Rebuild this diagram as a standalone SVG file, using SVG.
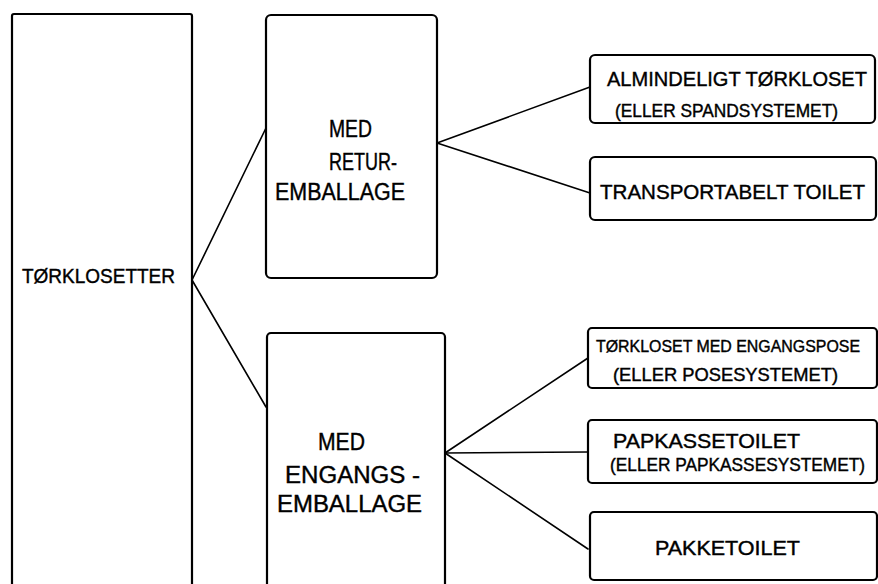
<svg xmlns="http://www.w3.org/2000/svg" width="878" height="584" viewBox="0 0 878 584">
<style>
.box{fill:none;stroke:#000;stroke-width:2.2;stroke-linejoin:round}
.con{fill:none;stroke:#000;stroke-width:1.6;stroke-linecap:round}
text{font-family:"Liberation Sans","DejaVu Sans",sans-serif;fill:#000;stroke:#000;stroke-width:0.4;font-size:23px}
.m{font-size:21px}
.s{font-size:18px}
.t{font-size:17px}
</style>
<rect width="878" height="584" fill="#fff"/>
<g id="connectors">
<line class="con" x1="192" y1="280" x2="266" y2="128"/>
<line class="con" x1="192" y1="280" x2="266" y2="407"/>
<line class="con" x1="437" y1="143" x2="590" y2="87"/>
<line class="con" x1="437" y1="143" x2="590" y2="193"/>
<line class="con" x1="445" y1="453" x2="588" y2="358"/>
<line class="con" x1="445" y1="453" x2="588" y2="452"/>
<line class="con" x1="445" y1="453" x2="588" y2="549"/>
</g>
<g id="n-torklosetter">
<rect class="box" x="12" y="14" width="180" height="600" rx="2"/>
<text x="22" y="283" class="m" textLength="153" lengthAdjust="spacingAndGlyphs">TØRKLOSETTER</text>
</g>
<g id="n-retur">
<rect class="box" x="266" y="15" width="171" height="263" rx="5"/>
<text x="329" y="137" textLength="43" lengthAdjust="spacingAndGlyphs">MED</text>
<text x="329" y="170" textLength="68" lengthAdjust="spacingAndGlyphs">RETUR-</text>
<text x="275" y="200" textLength="130" lengthAdjust="spacingAndGlyphs">EMBALLAGE</text>
</g>
<g id="n-engangs">
<rect class="box" x="267" y="333" width="178" height="280" rx="4"/>
<text x="318" y="450" textLength="47" lengthAdjust="spacingAndGlyphs">MED</text>
<text x="285" y="483" textLength="135" lengthAdjust="spacingAndGlyphs">ENGANGS -</text>
<text x="277" y="512" textLength="145" lengthAdjust="spacingAndGlyphs">EMBALLAGE</text>
</g>
<g id="n-almindeligt">
<rect class="box" x="590" y="55" width="285" height="68" rx="5"/>
<text x="607" y="86" class="m" textLength="260" lengthAdjust="spacingAndGlyphs">ALMINDELIGT TØRKLOSET</text>
<text x="615" y="117" class="s" textLength="223" lengthAdjust="spacingAndGlyphs">(ELLER SPANDSYSTEMET)</text>
</g>
<g id="n-transportabelt">
<rect class="box" x="590" y="157" width="286" height="63" rx="5"/>
<text x="600" y="199" class="m" textLength="265" lengthAdjust="spacingAndGlyphs">TRANSPORTABELT TOILET</text>
</g>
<g id="n-engangspose">
<rect class="box" x="588" y="328" width="289" height="60" rx="4"/>
<text x="596" y="352" class="t" textLength="264" lengthAdjust="spacingAndGlyphs">TØRKLOSET MED ENGANGSPOSE</text>
<text x="613" y="381" class="s" textLength="225" lengthAdjust="spacingAndGlyphs">(ELLER POSESYSTEMET)</text>
</g>
<g id="n-papkasse">
<rect class="box" x="588" y="420" width="289" height="63" rx="4"/>
<text x="613" y="448" class="m" textLength="187" lengthAdjust="spacingAndGlyphs">PAPKASSETOILET</text>
<text x="610" y="471" class="s" textLength="255" lengthAdjust="spacingAndGlyphs">(ELLER PAPKASSESYSTEMET)</text>
</g>
<g id="n-pakketoilet">
<rect class="box" x="590" y="512" width="287" height="68" rx="4"/>
<text x="655" y="555" class="m" textLength="145" lengthAdjust="spacingAndGlyphs">PAKKETOILET</text>
</g>
</svg>
